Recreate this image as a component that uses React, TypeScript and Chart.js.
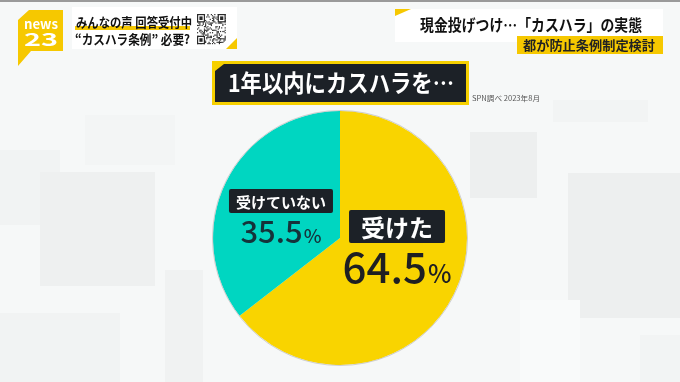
import React, { useEffect, useRef } from "react";
import { Chart, registerables } from "chart.js";

Chart.register(...registerables);

const categories = ["受けた", "受けていない"];
const shares = [64.5, 35.5];
const sliceColors = ["#F9D400", "#00D6C1"];
const pctColors = ["#1E1F22", "#15333A"];
const chartTitle = "1年以内にカスハラを…";
const sourceNote = "SPN調べ 2023年8月";
const headLeft1 = "みんなの声 回答受付中";
const headLeft2 = "“カスハラ条例” 必要?";
const headRight = "現金投げつけ…「カスハラ」の実態";
const headRightSub = "都が防止条例制定検討";

const JP = '"Noto Sans CJK JP", "Noto Sans", sans-serif';

// draw text so it spans exactly `width` px starting at x (horizontal scaling)
function fitText(ctx: CanvasRenderingContext2D, text: string, x: number, y: number, width: number) {
  const w = ctx.measureText(text).width;
  const s = width / w;
  ctx.save();
  ctx.textAlign = "left";
  ctx.translate(x, y);
  ctx.scale(s, 1);
  ctx.fillText(text, 0, 0);
  ctx.restore();
}

function drawBackground(ctx: CanvasRenderingContext2D, w: number, h: number) {
  ctx.save();
  ctx.fillStyle = "#F6F8F8";
  ctx.fillRect(0, 0, w, h);
  const blocks: [number, number, number, number, string][] = [
    [0, 150, 60, 75, "#F1F3F3"],
    [40, 172, 115, 114, "#EEF0F0"],
    [0, 313, 120, 69, "#F1F3F3"],
    [85, 115, 90, 50, "#F3F5F5"],
    [165, 270, 38, 112, "#F0F2F2"],
    [470, 132, 67, 66, "#EDEFEF"],
    [568, 173, 112, 145, "#EDEFEF"],
    [553, 100, 95, 22, "#F2F4F4"],
    [520, 300, 60, 82, "#F9FAFA"],
    [640, 335, 40, 47, "#F2F4F4"],
  ];
  for (const [x, y, bw, bh, c] of blocks) {
    ctx.fillStyle = c;
    ctx.fillRect(x, y, bw, bh);
  }
  ctx.fillStyle = "#9A9A9A";
  ctx.fillRect(0, 0, w, 2);
  ctx.restore();
}

function drawHeader(ctx: CanvasRenderingContext2D) {
  ctx.save();
  ctx.textBaseline = "alphabetic";
  // news23 logo
  ctx.fillStyle = "#F6C800";
  ctx.beginPath();
  ctx.moveTo(29, 10);
  ctx.lineTo(63, 10);
  ctx.lineTo(63, 51);
  ctx.lineTo(31, 51);
  ctx.lineTo(18, 66);
  ctx.lineTo(18, 20);
  ctx.closePath();
  ctx.fill();
  ctx.fillStyle = "#FFFFFF";
  ctx.font = `bold 13px ${JP}`;
  fitText(ctx, "news", 24, 29, 34);
  ctx.font = `bold 18px ${JP}`;
  fitText(ctx, "23", 24, 46, 34);

  // left white box
  ctx.fillStyle = "#FFFFFF";
  ctx.fillRect(72, 7, 165, 42);
  ctx.fillStyle = "#F6C800";
  ctx.beginPath();
  ctx.moveTo(237, 38);
  ctx.lineTo(237, 49);
  ctx.lineTo(226, 49);
  ctx.closePath();
  ctx.fill();
  ctx.fillStyle = "#F6C800";
  ctx.fillRect(75, 26, 115, 4);
  ctx.fillStyle = "#111111";
  ctx.font = `bold 13px ${JP}`;
  fitText(ctx, headLeft1, 76, 27, 116);
  fitText(ctx, headLeft2, 75, 44, 115);
  // QR code decoration
  const qx = 197, qy = 14, cell = 1.15, n = 25;
  ctx.fillStyle = "#2A2A2A";
  for (let i = 0; i < n; i++) {
    for (let j = 0; j < n; j++) {
      if (((i * 7 + j * 13) ^ (i * j)) % 3 === 0) ctx.fillRect(qx + j * cell, qy + i * cell * 1.05, cell, cell * 1.05);
    }
  }
  const finder = (fx: number, fy: number) => {
    ctx.fillStyle = "#2A2A2A";
    ctx.fillRect(fx, fy, 8, 8.4);
    ctx.fillStyle = "#FFFFFF";
    ctx.fillRect(fx + 1.2, fy + 1.2, 5.6, 6);
    ctx.fillStyle = "#2A2A2A";
    ctx.fillRect(fx + 2.4, fy + 2.4, 3.2, 3.6);
  };
  finder(qx, qy);
  finder(qx + 20.7, qy);
  finder(qx, qy + 21.8);

  // right header
  ctx.fillStyle = "#FFFFFF";
  ctx.fillRect(395, 9, 268, 33);
  ctx.fillStyle = "#F6C800";
  ctx.beginPath();
  ctx.moveTo(395, 9);
  ctx.lineTo(411, 9);
  ctx.lineTo(395, 16);
  ctx.closePath();
  ctx.fill();
  ctx.fillStyle = "#111111";
  ctx.font = `bold 16px ${JP}`;
  fitText(ctx, headRight, 420, 31, 222);
  ctx.fillStyle = "#F6C800";
  ctx.fillRect(517, 36, 146, 18);
  ctx.fillStyle = "#222222";
  ctx.font = `bold 13px ${JP}`;
  fitText(ctx, headRightSub, 523, 50, 132);

  // chart title box
  ctx.fillStyle = "#F6D000";
  ctx.fillRect(212, 61, 257, 44);
  ctx.fillStyle = "#1C2127";
  ctx.fillRect(215, 64, 251, 38);
  ctx.fillStyle = "#F6D000";
  ctx.beginPath();
  ctx.moveTo(215, 64);
  ctx.lineTo(224, 64);
  ctx.lineTo(215, 71);
  ctx.closePath();
  ctx.fill();
  ctx.fillStyle = "#FFFFFF";
  ctx.font = `bold 24px ${JP}`;
  fitText(ctx, chartTitle, 228, 92, 226);

  ctx.fillStyle = "#555555";
  ctx.font = `7px ${JP}`;
  fitText(ctx, sourceNote, 472, 101, 68);
  ctx.restore();
}

// per-slice label styling (relative to the slice's centroid)
const labelBoxFont = [24, 15];
const labelBoxH = [33, 24];
const labelBoxTop = [-56, -21];
const labelDx = [0, -2];
const pctFont = [42, 31];
const pctBaseline = [17, 33];

function drawLabels(chart: Chart) {
  const ctx = chart.ctx;
  const meta = chart.getDatasetMeta(0);
  ctx.save();
  // subtle outer rim
  const first: any = meta.data[0];
  if (first) {
    ctx.strokeStyle = "rgba(190,190,190,0.7)";
    ctx.lineWidth = 1;
    ctx.beginPath();
    ctx.arc(first.x, first.y, first.outerRadius + 0.5, 0, Math.PI * 2);
    ctx.stroke();
  }
  meta.data.forEach((arc: any, i: number) => {
    const p = arc.tooltipPosition();
    const cx = p.x + labelDx[i];
    const cy = p.y;
    ctx.font = `bold ${labelBoxFont[i]}px ${JP}`;
    const tw = ctx.measureText(categories[i]).width;
    const padX = i === 0 ? 12 : 7;
    const bw = tw + padX * 2;
    const top = cy + labelBoxTop[i];
    ctx.fillStyle = "#1C2127";
    ctx.beginPath();
    (ctx as any).roundRect(cx - bw / 2, top, bw, labelBoxH[i], 2);
    ctx.fill();
    ctx.fillStyle = "#FFFFFF";
    ctx.textAlign = "center";
    ctx.textBaseline = "middle";
    ctx.fillText(categories[i], cx, top + labelBoxH[i] / 2 + 1);

    const num = shares[i].toFixed(1);
    const nf = `500 ${pctFont[i]}px ${JP}`;
    const pf = `500 ${Math.round(pctFont[i] * 0.6)}px ${JP}`;
    ctx.font = nf;
    const nw = ctx.measureText(num).width;
    ctx.font = pf;
    const pw = ctx.measureText("%").width;
    const x0 = cx - (nw + pw + 1) / 2;
    const base = cy + pctBaseline[i];
    ctx.textAlign = "left";
    ctx.textBaseline = "alphabetic";
    ctx.fillStyle = pctColors[i];
    ctx.font = nf;
    ctx.fillText(num, x0, base);
    ctx.font = pf;
    ctx.fillText("%", x0 + nw + 1, base);
  });
  ctx.restore();
}

export default function App() {
  const ref = useRef<HTMLCanvasElement | null>(null);
  useEffect(() => {
    if (!ref.current) return;
    const chart = new Chart(ref.current, {
      type: "pie",
      data: {
        labels: categories,
        datasets: [
          {
            data: shares,
            backgroundColor: sliceColors,
            borderWidth: 0,
          },
        ],
      },
      options: {
        responsive: false,
        animation: false,
        layout: { padding: { top: 111, bottom: 17, left: 213, right: 213 } },
        plugins: { legend: { display: false }, tooltip: { enabled: false } },
      },
      plugins: [
        {
          id: "scene",
          beforeDraw(c: Chart) {
            drawBackground(c.ctx, c.width, c.height);
            drawHeader(c.ctx);
          },
          afterDatasetsDraw(c: Chart) {
            drawLabels(c);
          },
        },
      ],
    });
    return () => chart.destroy();
  }, []);
  return (
    <div style={{ position: "fixed", left: 0, top: 0, width: 680, height: 382 }}>
      <canvas ref={ref} width={680} height={382} style={{ display: "block" }} />
    </div>
  );
}
